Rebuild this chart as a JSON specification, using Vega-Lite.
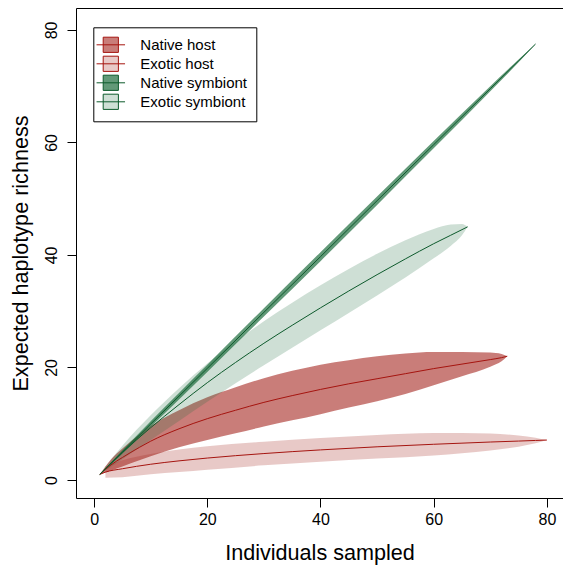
{
  "$schema": "https://vega.github.io/schema/vega-lite/v6.json",
  "autosize": "none",
  "width": 487,
  "height": 490,
  "padding": {"left": 76, "top": 8, "right": 0, "bottom": 70},
  "background": "white",
  "config": {
    "view": {"stroke": null},
    "font": "Liberation Sans",
    "axis": {
      "grid": false,
      "domainColor": "black",
      "domainWidth": 1,
      "tickColor": "black",
      "tickWidth": 1,
      "tickSize": 9,
      "labelFont": "Liberation Sans",
      "labelFontSize": 16,
      "labelColor": "black",
      "labelFlush": false,
      "labelOverlap": false,
      "titleFont": "Liberation Sans",
      "titleFontSize": 21.6,
      "titleFontWeight": "normal",
      "titleColor": "black"
    }
  },
  "data": {
    "values": [
      {"series": "Native host", "x": 1, "y": 1, "lo": 1, "hi": 1},
      {"series": "Native host", "x": 3, "y": 2.7, "lo": 1.7, "hi": 3.7},
      {"series": "Native host", "x": 5, "y": 4.0, "lo": 2.4, "hi": 5.6},
      {"series": "Native host", "x": 8, "y": 5.8, "lo": 3.5, "hi": 8.1},
      {"series": "Native host", "x": 10, "y": 6.9, "lo": 4.2, "hi": 9.6},
      {"series": "Native host", "x": 15, "y": 9.1, "lo": 5.8, "hi": 12.4},
      {"series": "Native host", "x": 20, "y": 10.9, "lo": 7.1, "hi": 14.7},
      {"series": "Native host", "x": 25, "y": 12.4, "lo": 8.3, "hi": 16.5},
      {"series": "Native host", "x": 30, "y": 13.8, "lo": 9.5, "hi": 18.1},
      {"series": "Native host", "x": 35, "y": 15.0, "lo": 10.6, "hi": 19.4},
      {"series": "Native host", "x": 40, "y": 16.1, "lo": 11.7, "hi": 20.5},
      {"series": "Native host", "x": 45, "y": 17.1, "lo": 12.9, "hi": 21.3},
      {"series": "Native host", "x": 50, "y": 18.0, "lo": 14.0, "hi": 22.0},
      {"series": "Native host", "x": 55, "y": 18.9, "lo": 15.3, "hi": 22.5},
      {"series": "Native host", "x": 60, "y": 19.8, "lo": 16.85, "hi": 22.75},
      {"series": "Native host", "x": 65, "y": 20.6, "lo": 18.45, "hi": 22.75},
      {"series": "Native host", "x": 70, "y": 21.4, "lo": 20.15, "hi": 22.65},
      {"series": "Native host", "x": 72, "y": 21.75, "lo": 21.1, "hi": 22.4},
      {"series": "Native host", "x": 73, "y": 22.0, "lo": 22.0, "hi": 22.0},
      {"series": "Exotic host", "x": 1, "y": 1, "lo": null, "hi": null},
      {"series": "Exotic host", "x": 2, "y": 1.4, "lo": 0.4, "hi": 2.4},
      {"series": "Exotic host", "x": 5, "y": 2.0, "lo": 0.5, "hi": 3.5},
      {"series": "Exotic host", "x": 10, "y": 2.8, "lo": 1.0, "hi": 4.6},
      {"series": "Exotic host", "x": 15, "y": 3.4, "lo": 1.4, "hi": 5.4},
      {"series": "Exotic host", "x": 20, "y": 3.9, "lo": 1.8, "hi": 6.0},
      {"series": "Exotic host", "x": 30, "y": 4.7, "lo": 2.6, "hi": 6.8},
      {"series": "Exotic host", "x": 40, "y": 5.35, "lo": 3.25, "hi": 7.45},
      {"series": "Exotic host", "x": 50, "y": 5.9, "lo": 3.8, "hi": 8.0},
      {"series": "Exotic host", "x": 60, "y": 6.35, "lo": 4.35, "hi": 8.35},
      {"series": "Exotic host", "x": 65, "y": 6.55, "lo": 4.75, "hi": 8.35},
      {"series": "Exotic host", "x": 70, "y": 6.75, "lo": 5.25, "hi": 8.25},
      {"series": "Exotic host", "x": 75, "y": 6.92, "lo": 5.92, "hi": 7.92},
      {"series": "Exotic host", "x": 78, "y": 7.03, "lo": 6.53, "hi": 7.53},
      {"series": "Exotic host", "x": 80, "y": 7.1, "lo": 7.1, "hi": 7.1},
      {"series": "Native symbiont", "x": 1, "y": 1, "lo": 1, "hi": 1},
      {"series": "Native symbiont", "x": 5, "y": 4.98, "lo": 4.68, "hi": 5.28},
      {"series": "Native symbiont", "x": 10, "y": 9.95, "lo": 9.45, "hi": 10.45},
      {"series": "Native symbiont", "x": 20, "y": 19.85, "lo": 19.2, "hi": 20.5},
      {"series": "Native symbiont", "x": 30, "y": 29.8, "lo": 29.05, "hi": 30.55},
      {"series": "Native symbiont", "x": 40, "y": 39.7, "lo": 38.9, "hi": 40.5},
      {"series": "Native symbiont", "x": 50, "y": 49.65, "lo": 48.9, "hi": 50.4},
      {"series": "Native symbiont", "x": 60, "y": 59.6, "lo": 58.95, "hi": 60.25},
      {"series": "Native symbiont", "x": 70, "y": 69.55, "lo": 69.1, "hi": 70.0},
      {"series": "Native symbiont", "x": 75, "y": 74.5, "lo": 74.25, "hi": 74.75},
      {"series": "Native symbiont", "x": 78, "y": 77.5, "lo": 77.5, "hi": 77.5},
      {"series": "Exotic symbiont", "x": 1, "y": 1, "lo": 1, "hi": 1},
      {"series": "Exotic symbiont", "x": 5, "y": 4.9, "lo": 3.7, "hi": 6.1},
      {"series": "Exotic symbiont", "x": 10, "y": 9.3, "lo": 7.1, "hi": 11.5},
      {"series": "Exotic symbiont", "x": 15, "y": 13.4, "lo": 10.5, "hi": 16.3},
      {"series": "Exotic symbiont", "x": 20, "y": 17.3, "lo": 13.9, "hi": 20.7},
      {"series": "Exotic symbiont", "x": 25, "y": 20.9, "lo": 17.2, "hi": 24.6},
      {"series": "Exotic symbiont", "x": 30, "y": 24.3, "lo": 20.4, "hi": 28.2},
      {"series": "Exotic symbiont", "x": 35, "y": 27.5, "lo": 23.5, "hi": 31.5},
      {"series": "Exotic symbiont", "x": 40, "y": 30.6, "lo": 26.6, "hi": 34.6},
      {"series": "Exotic symbiont", "x": 45, "y": 33.6, "lo": 29.7, "hi": 37.5},
      {"series": "Exotic symbiont", "x": 50, "y": 36.5, "lo": 32.8, "hi": 40.2},
      {"series": "Exotic symbiont", "x": 55, "y": 39.3, "lo": 36.0, "hi": 42.6},
      {"series": "Exotic symbiont", "x": 60, "y": 42.0, "lo": 39.4, "hi": 44.6},
      {"series": "Exotic symbiont", "x": 63, "y": 43.5, "lo": 41.6, "hi": 45.4},
      {"series": "Exotic symbiont", "x": 65, "y": 44.5, "lo": 43.5, "hi": 45.5},
      {"series": "Exotic symbiont", "x": 66, "y": 45, "lo": 45, "hi": 45}
    ]
  },
  "layer": [
    {
      "mark": {"type": "area", "interpolate": "monotone", "strokeWidth": 0},
      "encoding": {
        "x": {
          "field": "x", "type": "quantitative",
          "scale": {"domain": [-3.2, 82.85], "nice": false, "zero": false},
          "axis": {
            "orient": "bottom",
            "values": [0, 20, 40, 60, 80],
            "labelPadding": 4,
            "title": "Individuals sampled",
            "titleBaseline": "alphabetic",
            "titleY": 61
          }
        },
        "y": {
          "field": "lo", "type": "quantitative",
          "scale": {"domain": [-3.2, 83.9], "nice": false, "zero": false},
          "axis": {
            "values": [0, 20, 40, 60, 80],
            "labelAngle": -90,
            "labelAlign": "center",
            "labelBaseline": "alphabetic",
            "labelPadding": 11,
            "title": "Expected haplotype richness",
            "titleAngle": 270,
            "titleBaseline": "alphabetic",
            "titleX": -49
          }
        },
        "y2": {"field": "hi"},
        "fill": {
          "field": "series", "type": "nominal",
          "scale": {
            "domain": ["Native host", "Exotic host", "Native symbiont", "Exotic symbiont"],
            "range": ["#a5261f", "#a5261f", "#1f6e3e", "#1f6e3e"]
          },
          "legend": {
            "orient": "none",
            "legendX": 17.3,
            "legendY": 19.3,
            "title": null,
            "strokeColor": "black",
            "fillColor": "white",
            "padding": 9,
            "cornerRadius": 0,
            "symbolType": "M-1.78,0H1.78M-0.95,-0.95H0.95V0.95H-0.95Z",
            "symbolSize": 256,
            "symbolStrokeWidth": 1,
            "labelFont": "Liberation Sans",
            "labelFontSize": 15,
            "labelColor": "black",
            "labelOffset": 21,
            "rowPadding": -2.5,
            "encode": {
              "symbols": {
                "update": {
                  "stroke": {"signal": "indexof(['Native host','Exotic host'], datum.value) >= 0 ? '#a5140f' : '#0d5a2c'"},
                  "fillOpacity": {"signal": "datum.value == 'Native host' ? 0.6 : datum.value == 'Exotic host' ? 0.25 : datum.value == 'Native symbiont' ? 0.7 : 0.22"},
                  "opacity": {"value": 1}
                }
              }
            }
          }
        },
        "fillOpacity": {
          "field": "series", "type": "nominal",
          "scale": {
            "type": "ordinal",
            "domain": ["Native host", "Exotic host", "Native symbiont", "Exotic symbiont"],
            "range": [0.6, 0.25, 0.7, 0.22]
          },
          "legend": null
        }
      }
    },
    {
      "mark": {"type": "line", "interpolate": "monotone", "strokeWidth": 1},
      "encoding": {
        "x": {
          "field": "x", "type": "quantitative",
          "axis": {"orient": "top", "labels": false, "ticks": false, "title": null, "domain": true, "grid": false}
        },
        "y": {"field": "y", "type": "quantitative"},
        "stroke": {
          "field": "series", "type": "nominal",
          "scale": {
            "domain": ["Native host", "Exotic host", "Native symbiont", "Exotic symbiont"],
            "range": ["#a5140f", "#a5140f", "#0d5a2c", "#0d5a2c"]
          },
          "legend": null
        }
      }
    }
  ]
}
